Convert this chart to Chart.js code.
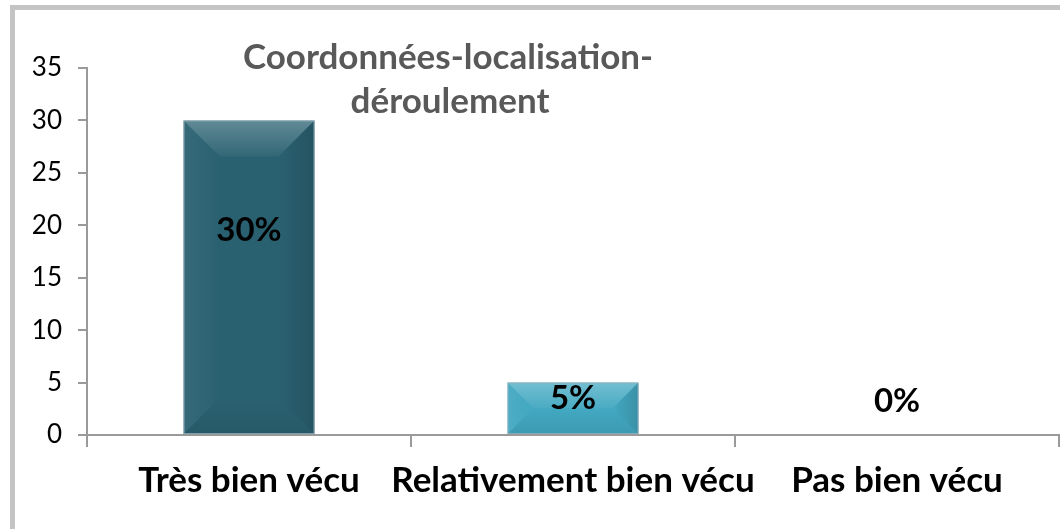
<!DOCTYPE html>
<html>
<head>
<meta charset="utf-8">
<script src="https://cdn.jsdelivr.net/npm/chart.js@4"></script>
<style>
  html, body { margin: 0; padding: 0; background: #fff; overflow: hidden; }
  #frame { position: absolute; left: 10px; top: 5px; width: 1100px; height: 600px; border: 5px solid #c4c4c4; }
  #wrap { position: absolute; left: 0; top: 0; width: 1060px; height: 529px; }
</style>
</head>
<body>
<div id="frame"></div>
<div id="wrap"><canvas id="myChart" width="1060" height="529"></canvas></div>
<script>
var categories = ["Très bien vécu", "Relativement bien vécu", "Pas bien vécu"];
var values = [30, 5, 0];
var valueLabels = ["30%", "5%", "0%"];
var yTicks = [0, 5, 10, 15, 20, 25, 30, 35];
var titleLines = ["Coordonnées-localisation-", "déroulement"];

var barColors = ['#2a6171', '#42a8c1', '#42a8c1'];

// soft bevel look of the Excel bars
var bevelPlugin = {
    id: 'bevel',
    afterDatasetsDraw: function(chart) {
        var c = chart.ctx;
        chart.getDatasetMeta(0).data.forEach(function(bar) {
            var l = bar.x - bar.width / 2, r = bar.x + bar.width / 2;
            var t = Math.min(bar.y, bar.base), b = Math.max(bar.y, bar.base);
            var h = b - t;
            if (h < 1) return;
            var d = Math.min(36, bar.width / 2, h / 2);
            c.save();
            function poly(pts, fill) {
                c.beginPath();
                c.moveTo(pts[0][0], pts[0][1]);
                for (var i = 1; i < pts.length; i++) c.lineTo(pts[i][0], pts[i][1]);
                c.closePath();
                c.fillStyle = fill;
                c.fill();
            }
            var g = c.createLinearGradient(0, t, 0, t + d);
            g.addColorStop(0, 'rgba(255,255,255,0.26)');
            g.addColorStop(1, 'rgba(255,255,255,0.04)');
            poly([[l, t], [r, t], [r - d, t + d], [l + d, t + d]], g);
            var gl = c.createLinearGradient(l, 0, l + d, 0);
            gl.addColorStop(0, 'rgba(255,255,255,0.06)');
            gl.addColorStop(1, 'rgba(255,255,255,0.0)');
            poly([[l, t], [l + d, t + d], [l + d, b - d], [l, b]], gl);
            var gr = c.createLinearGradient(r - d, 0, r, 0);
            gr.addColorStop(0, 'rgba(0,0,0,0.0)');
            gr.addColorStop(1, 'rgba(0,0,0,0.14)');
            poly([[r, t], [r - d, t + d], [r - d, b - d], [r, b]], gr);
            var gb = c.createLinearGradient(0, b - d, 0, b);
            gb.addColorStop(0, 'rgba(0,0,0,0.0)');
            gb.addColorStop(1, 'rgba(0,0,0,0.08)');
            poly([[l, b], [l + d, b - d], [r - d, b - d], [r, b]], gb);
            c.strokeStyle = 'rgba(150,175,185,0.8)';
            c.lineWidth = 1;
            c.strokeRect(l + 0.5, t + 0.5, bar.width - 1, h - 1);
            c.restore();
        });
    }
};

var labelPlugin = {
    id: 'valueLabels',
    afterDatasetsDraw: function(chart) {
        var c = chart.ctx;
        var ys = chart.scales.y;
        c.save();
        c.font = 'bold 33px Lato';
        c.fillStyle = '#000';
        c.textAlign = 'center';
        c.textBaseline = 'middle';
        chart.getDatasetMeta(0).data.forEach(function(bar, i) {
            var v = Math.max(values[i] * 0.65, 3.2);
            c.fillText(valueLabels[i], bar.x, ys.getPixelForValue(v) - (values[i] > 0 && values[i] < 10 ? 3 : 0));
        });
        c.restore();
    }
};

var titlePlugin = {
    id: 'overTitle',
    afterDraw: function(chart) {
        var c = chart.ctx;
        c.save();
        c.font = 'bold 35px Lato';
        c.fillStyle = '#595959';
        c.textAlign = 'center';
        c.textBaseline = 'middle';
        c.fillText(titleLines[0], 448, 58);
        c.fillText(titleLines[1], 450, 102);
        c.restore();
    }
};

var ctx = document.getElementById("myChart");
myChart = new Chart(ctx, {
    type: 'bar',
    data: {
        labels: categories,
        datasets: [{
            data: values,
            backgroundColor: barColors,
            borderWidth: 0,
            barPercentage: 0.404,
            categoryPercentage: 1.0
        }]
    },
    options: {
        responsive: false,
        animation: false,
        events: [],
        layout: { padding: { top: 68, right: 1, bottom: 0, left: 0 } },
        plugins: {
            legend: { display: false },
            tooltip: { enabled: false }
        },
        scales: {
            x: {
                afterFit: function(s) { s.height = 94; },
                grid: { offset: true, drawOnChartArea: false, drawTicks: true, tickLength: 12, color: '#9a9a9a', lineWidth: 2 },
                border: { display: true, color: '#9a9a9a', width: 2 },
                ticks: { color: '#000', padding: 13, font: { family: 'Lato', size: 35, weight: 'bold' }, maxRotation: 0, autoSkip: false }
            },
            y: {
                min: 0,
                max: 35,
                afterFit: function(s) { s.width = 87; },
                afterBuildTicks: function(s) { s.ticks = yTicks.map(function(v) { return { value: v }; }); },
                grid: { drawOnChartArea: false, drawTicks: true, tickLength: 9, color: '#9a9a9a', lineWidth: 2 },
                border: { display: true, color: '#9a9a9a', width: 2 },
                ticks: { color: '#000', padding: 16, font: { family: 'Lato', size: 26 } }
            }
        }
    },
    plugins: [bevelPlugin, labelPlugin, titlePlugin]
});
</script>
</body>
</html>
